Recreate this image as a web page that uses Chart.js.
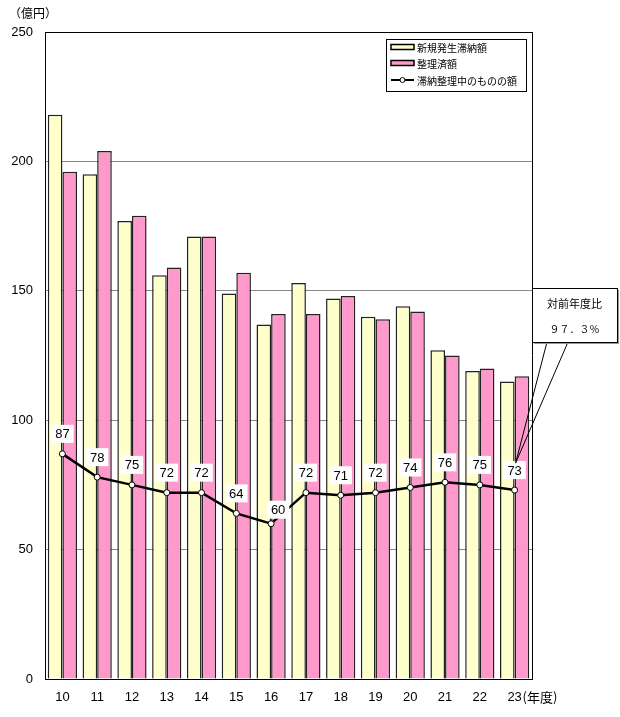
<!DOCTYPE html>
<html>
<head>
<meta charset="utf-8">
<script src="https://cdn.jsdelivr.net/npm/chart.js@4.4.0/dist/chart.umd.min.js"></script>
<style>
  html, body { margin: 0; padding: 0; background: #ffffff; }
  #wrap { width: 620px; height: 717px; position: relative; }
</style>
</head>
<body>
<div id="wrap"><canvas id="c" width="620" height="717"></canvas></div>
<script>
// ---- data ----
const categories = ['10','11','12','13','14','15','16','17','18','19','20','21','22','23'];
const newArrears = [218, 195, 177, 156, 171, 149, 137, 153, 147, 140, 144, 127, 119, 115];
const settled    = [196, 204, 179, 159, 171, 157, 141, 141, 148, 139, 142, 125, 120, 117];
const remaining  = [87, 78, 75, 72, 72, 64, 60, 72, 71, 72, 74, 76, 75, 73];
const yTicks     = [0, 50, 100, 150, 200, 250];
const seriesNames = ['新規発生滞納額', '整理済額', '滞納整理中のものの額'];
const yUnit = '（億円）';
const xUnit = '(年度)';
const calloutTitle = '対前年度比';

const JP = '"Noto Sans CJK JP", "Noto Sans", sans-serif';
const NUM = '"Liberation Sans", Arial, sans-serif';

function toFullWidth(s) {
  return s.replace(/[0-9.%]/g, ch => {
    if (ch === '.') return '．';
    if (ch === '%') return '％';
    return String.fromCharCode(ch.charCodeAt(0) + 0xFEE0);
  });
}
const ratio = remaining[remaining.length - 1] / remaining[remaining.length - 2] * 100;
const calloutValue = toFullWidth(ratio.toFixed(1) + '%');

const decorPlugin = {
  id: 'decor',
  afterDatasetsDraw(chart) {
    const ctx = chart.ctx;
    const a = chart.chartArea;
    const xs = chart.scales.x;
    ctx.save();
    // right frame line
    ctx.strokeStyle = '#000';
    ctx.lineWidth = 1;
    ctx.beginPath();
    ctx.moveTo(Math.round(a.right) + 0.5, a.top);
    ctx.lineTo(Math.round(a.right) + 0.5, a.bottom);
    ctx.stroke();

    // value labels for the line
    const meta = chart.getDatasetMeta(2);
    ctx.font = '13px ' + NUM;
    ctx.textAlign = 'center';
    ctx.textBaseline = 'middle';
    meta.data.forEach((pt, i) => {
      let dx = 0, dy = -20;
      if (i > 0 && i < remaining.length - 1 && remaining[i] < remaining[i - 1] && remaining[i + 1] - remaining[i] > 8) { dx = 7; dy = -14; }
      const txt = String(remaining[i]);
      const w = ctx.measureText(txt).width + 8;
      const h = 18;
      const cx = pt.x + dx, cy = pt.y + dy;
      ctx.fillStyle = '#fff';
      ctx.fillRect(cx - w / 2, cy - h / 2, w, h);
      ctx.fillStyle = '#000';
      ctx.fillText(txt, cx, cy + 1);
    });

    // legend box
    const lx = a.right - 146, ly = a.top + 7, lw = 140, lh = 52;
    ctx.fillStyle = '#fff';
    ctx.fillRect(lx, ly, lw, lh);
    ctx.strokeStyle = '#000';
    ctx.lineWidth = 1;
    ctx.strokeRect(lx + 0.5, ly + 0.5, lw, lh);
    ctx.font = '10px ' + JP;
    ctx.textAlign = 'left';
    ctx.textBaseline = 'middle';
    const rows = [ly + 8, ly + 24, ly + 41];
    const ds = chart.data.datasets;
    [0, 1].forEach(k => {
      ctx.fillStyle = ds[k].backgroundColor;
      ctx.fillRect(lx + 5, rows[k] - 2.5, 23, 5);
      ctx.strokeStyle = '#000';
      ctx.lineWidth = 1.5;
      ctx.strokeRect(lx + 5, rows[k] - 2.5, 23, 5);
    });
    ctx.strokeStyle = '#000';
    ctx.lineWidth = 2;
    ctx.beginPath();
    ctx.moveTo(lx + 5, rows[2]);
    ctx.lineTo(lx + 28, rows[2]);
    ctx.stroke();
    ctx.fillStyle = '#fff';
    ctx.lineWidth = 1;
    ctx.beginPath();
    ctx.arc(lx + 16.5, rows[2], 2.5, 0, Math.PI * 2);
    ctx.fill();
    ctx.stroke();
    ctx.fillStyle = '#000';
    seriesNames.forEach((n, k) => ctx.fillText(n, lx + 31, rows[k] + 1));

    // callout
    const last = meta.data[meta.data.length - 1];
    const bx = a.right, by = a.top + 256, bw = 85, bh = 54;
    const tipX = last.x + 1, tipY = last.y - 27;
    ctx.strokeStyle = '#000';
    ctx.lineWidth = 1;
    ctx.beginPath();
    ctx.moveTo(bx + 15, by + bh);
    ctx.lineTo(tipX, tipY);
    ctx.lineTo(bx + 36, by + bh);
    ctx.stroke();
    ctx.fillStyle = '#999';
    ctx.fillRect(bx + 2, by + 2, bw, bh);
    ctx.fillStyle = '#fff';
    ctx.fillRect(bx, by, bw, bh);
    ctx.strokeRect(bx + 0.5, by + 0.5, bw, bh);
    ctx.fillStyle = '#000';
    ctx.textAlign = 'center';
    ctx.font = '11px ' + JP;
    ctx.fillText(calloutTitle, bx + bw / 2, by + 16);
    ctx.font = '10px ' + JP;
    ctx.fillText(calloutValue, bx + bw / 2, by + 41);

    // units
    ctx.font = '12px ' + JP;
    ctx.textAlign = 'left';
    ctx.fillText(yUnit, 9, 13);
    const lastX = xs.getPixelForValue(categories.length - 1);
    ctx.font = '13px ' + JP;
    ctx.fillText(xUnit, lastX + 8, a.bottom + 18);
    ctx.restore();
  }
};

new Chart(document.getElementById('c'), {
  data: {
    labels: categories,
    datasets: [
      { type: 'bar', label: seriesNames[0], data: newArrears, backgroundColor: '#FFFFCC', borderColor: '#222', borderWidth: 1.5, order: 2 },
      { type: 'bar', label: seriesNames[1], data: settled, backgroundColor: '#FF99CC', borderColor: '#222', borderWidth: 1.5, order: 2 },
      { type: 'line', label: seriesNames[2], data: remaining, borderColor: '#000', borderWidth: 2.5, pointRadius: 3, pointBackgroundColor: '#fff', pointBorderColor: '#000', pointBorderWidth: 1, tension: 0, order: 1 }
    ]
  },
  options: {
    responsive: false,
    animation: false,
    devicePixelRatio: 1,
    layout: { padding: { left: 0, top: 32, right: 88, bottom: 0 } },
    datasets: { bar: { categoryPercentage: 0.84, barPercentage: 1.0 } },
    plugins: { legend: { display: false }, tooltip: { enabled: false } },
    scales: {
      x: {
        grid: { display: false, drawTicks: false },
        border: { display: true, color: '#000', width: 1 },
        ticks: { color: '#000', font: { family: NUM, size: 13 }, padding: 11, maxRotation: 0 },
        afterFit(s) { s.height = 38; }
      },
      y: {
        min: 0, max: 250,
        afterBuildTicks(s) { s.ticks = yTicks.map(v => ({ value: v })); },
        grid: {
          drawTicks: false,
          color: c => (c.tick && (c.tick.value === 250)) ? '#000' : '#888',
          lineWidth: 1
        },
        border: { display: true, color: '#000', width: 1 },
        ticks: { color: '#000', font: { family: NUM, size: 13 }, padding: 12 },
        afterFit(s) { s.width = 45; }
      }
    }
  },
  plugins: [decorPlugin]
});
</script>
</body>
</html>
